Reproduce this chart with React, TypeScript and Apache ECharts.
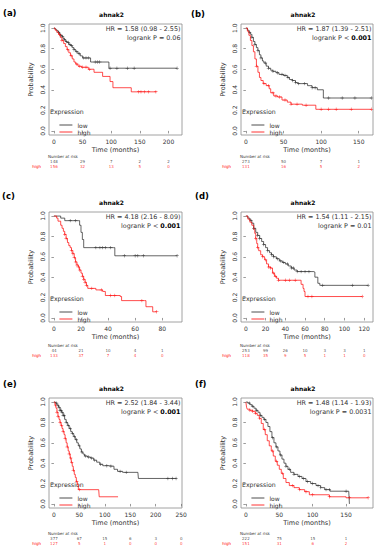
import React, { useEffect, useRef } from "react";
import * as echarts from "echarts";

type Pt = [number, number];

// ---------- (a) ----------
const aLow: Pt[] = [[0,1],[2,0.99],[4,0.98],[6,0.97],[8,0.96],[10,0.94],[12,0.93],[14,0.92],[16,0.9],[18,0.89],[20,0.87],[23,0.86],[26,0.84],[29,0.83],[32,0.81],[35,0.79],[38,0.77],[42,0.75],[46,0.73],[50,0.71],[64,0.67],[96,0.61],[215,0.61]];
const aHigh: Pt[] = [[0,1],[2,0.98],[5,0.96],[8,0.94],[11,0.91],[14,0.88],[17,0.85],[20,0.82],[23,0.79],[26,0.76],[29,0.73],[32,0.7],[35,0.67],[38,0.65],[42,0.63],[48,0.62],[60,0.6],[70,0.57],[85,0.53],[98,0.48],[103,0.42],[135,0.38],[179,0.38]];
const aLowCens = [8,12,15,18,22,25,28,31,35,40,44,52,56,60,72,76,80,98,110,128,140,215];
const aHighCens = [10,14,24,30,40,45,50,56,62,148,152,158,165,178];
const aTicks = [0,50,100,150,200];
const aRiskLow = [148,29,7,2,2];
const aRiskHigh = [156,32,13,5,0];
const aHR = "HR = 1.58 (0.98 - 2.55)";

// ---------- (b) ----------
const bLow: Pt[] = [[0,1],[2,0.98],[4,0.96],[6,0.94],[8,0.91],[10,0.87],[12,0.84],[14,0.81],[16,0.78],[18,0.74],[20,0.71],[22,0.68],[24,0.66],[27,0.63],[30,0.61],[33,0.59],[36,0.58],[40,0.565],[44,0.55],[50,0.54],[55,0.52],[58,0.5],[62,0.49],[66,0.47],[69,0.46],[82,0.44],[88,0.42],[95,0.4],[103,0.32],[167,0.32]];
const bHigh: Pt[] = [[0,1],[2,0.97],[4,0.93],[6,0.88],[8,0.83],[10,0.77],[12,0.7],[14,0.63],[16,0.57],[18,0.52],[20,0.49],[23,0.46],[27,0.44],[31,0.41],[33,0.37],[37,0.34],[42,0.33],[48,0.3],[55,0.28],[60,0.26],[75,0.25],[93,0.21],[167,0.21]];
const bLowCens = [5,8,12,16,20,26,30,36,42,48,52,56,62,66,70,78,88,92,110,128,145,167];
const bHighCens = [14,24,30,36,40,45,52,60,68,80,100,110,120,140,167];
const bTicks = [0,50,100,150];
const bRiskLow = [273,50,7,1];
const bRiskHigh = [131,16,5,2];
const bHR = "HR = 1.87 (1.39 - 2.51)";

// ---------- (c) ----------
const cLow: Pt[] = [[0,1],[5,0.98],[8,0.955],[18,0.955],[19,0.91],[20,0.84],[21,0.77],[22,0.69],[44,0.69],[45,0.61],[91,0.61]];
const cHigh: Pt[] = [[0,1],[2,0.98],[3,0.95],[5,0.91],[6,0.88],[7,0.85],[8,0.82],[9,0.78],[10,0.74],[11,0.71],[12,0.69],[13,0.66],[14,0.63],[15,0.59],[16,0.55],[17,0.52],[18,0.5],[19,0.47],[20,0.44],[21,0.41],[22,0.38],[23,0.35],[24,0.32],[25,0.29],[31,0.275],[36,0.26],[38,0.22],[49,0.21],[50,0.17],[67,0.17],[68,0.11],[73,0.06],[76,0.06]];
const cLowCens = [12,16,31,34,36,38,42,52,60,62,66,91];
const cHighCens = [8,9,13,14,15,16,17,18,19,21,22,23,24,28,35,42,45,65,76];
const cTicks = [0,20,40,60,80];
const cRiskLow = [44,21,10,4,1];
const cRiskHigh = [133,37,7,4,0];
const cHR = "HR = 4.18 (2.16 - 8.09)";

// ---------- (d) ----------
const dLow: Pt[] = [[0,1],[2,0.98],[4,0.96],[6,0.93],[8,0.88],[10,0.84],[12,0.81],[14,0.78],[16,0.75],[18,0.72],[20,0.69],[22,0.66],[24,0.64],[26,0.62],[28,0.6],[31,0.58],[34,0.56],[37,0.545],[40,0.53],[43,0.51],[46,0.49],[49,0.47],[52,0.455],[69,0.45],[70,0.4],[73,0.34],[75,0.32],[124,0.32]];
const dHigh: Pt[] = [[0,1],[2,0.97],[4,0.94],[6,0.91],[8,0.87],[9,0.83],[10,0.78],[11,0.73],[12,0.69],[13,0.66],[15,0.62],[17,0.6],[19,0.57],[21,0.53],[23,0.5],[25,0.49],[27,0.44],[29,0.41],[31,0.39],[33,0.37],[55,0.37],[56,0.33],[58,0.29],[59,0.26],[60,0.21],[118,0.21]];
const dLowCens = [5,8,12,14,18,22,26,28,32,35,38,42,46,48,52,56,60,64,78,108,124];
const dHighCens = [10,12,17,20,23,25,28,30,33,40,44,50,63,67,118];
const dTicks = [0,20,40,60,80,100,120];
const dRiskLow = [253,99,26,10,3,3,1];
const dRiskHigh = [118,35,9,5,1,1,0];
const dHR = "HR = 1.54 (1.11 - 2.15)";

// ---------- (e) ----------
const eLow: Pt[] = [[0,1],[3,0.99],[6,0.97],[9,0.95],[12,0.92],[15,0.9],[18,0.87],[21,0.83],[24,0.8],[27,0.77],[30,0.74],[33,0.71],[36,0.69],[39,0.66],[42,0.63],[45,0.6],[48,0.57],[51,0.54],[54,0.51],[57,0.49],[60,0.47],[66,0.46],[72,0.45],[78,0.43],[84,0.41],[90,0.39],[96,0.375],[110,0.37],[118,0.34],[125,0.32],[135,0.31],[165,0.31],[166,0.25],[241,0.25]];
const eHigh: Pt[] = [[0,1],[2,0.97],[4,0.94],[6,0.9],[8,0.86],[10,0.83],[12,0.8],[14,0.77],[16,0.74],[18,0.71],[20,0.68],[22,0.64],[24,0.6],[26,0.56],[28,0.52],[30,0.49],[32,0.45],[34,0.41],[36,0.37],[38,0.33],[40,0.29],[42,0.26],[44,0.22],[46,0.19],[48,0.14],[88,0.14],[89,0.07],[126,0.07]];
const eLowCens = [5,8,10,12,14,16,18,20,24,28,32,36,40,44,50,55,62,68,74,80,92,104,112,130,142,224,233,240];
const eHighCens = [3,6,8,12,15,18,22,26,30,33,35,38,45,50];
const eTicks = [0,50,100,150,200,250];
const eRiskLow = [377,67,15,6,3,0];
const eRiskHigh = [127,5,1,0,0,0];
const eHR = "HR = 2.52 (1.84 - 3.44)";

// ---------- (f) ----------
const fLow: Pt[] = [[0,1],[3,0.99],[6,0.975],[9,0.96],[12,0.94],[15,0.92],[18,0.9],[21,0.87],[24,0.85],[27,0.83],[30,0.8],[33,0.76],[36,0.71],[39,0.65],[42,0.6],[45,0.56],[48,0.52],[51,0.48],[54,0.44],[57,0.4],[60,0.37],[63,0.34],[67,0.31],[72,0.29],[78,0.27],[84,0.25],[90,0.22],[97,0.2],[105,0.18],[112,0.16],[118,0.14],[126,0.125],[154,0.125],[155,0]];
const fHigh: Pt[] = [[0,1],[1,0.95],[2,0.93],[6,0.92],[10,0.91],[14,0.89],[17,0.87],[20,0.84],[23,0.79],[26,0.73],[29,0.68],[32,0.62],[35,0.57],[38,0.52],[41,0.47],[44,0.42],[47,0.38],[50,0.34],[53,0.3],[56,0.25],[60,0.21],[65,0.18],[72,0.16],[80,0.14],[88,0.12],[95,0.09],[125,0.07],[150,0.06],[183,0.06]];
const fLowCens = [5,10,16,22,28,40,46,52,60,65,72,80,86,92,100,108,112,120,125,150];
const fHighCens = [6,10,14,20,28,40,46,55,70,80,90,100,125,155,183];
const fTicks = [0,50,100,150];
const fRiskLow = [222,75,15,1];
const fRiskHigh = [151,31,6,2];
const fHR = "HR = 1.48 (1.14 - 1.93)";

const yTicks = [0, 0.2, 0.4, 0.6, 0.8, 1.0];
const riskRows = ["high", "low"];

// layout (positions only)
const panels = [
  { tag: "(a)", low: aLow, high: aHigh, lc: aLowCens, hc: aHighCens, ticks: aTicks, rl: aRiskLow, rh: aRiskHigh, hr: aHR, p: "= 0.06", bold: false, xr: [-8.6, 223.6], box: [49, 24, 182, 135], tagPos: [3, 8], riskY: 161, rMargin: 8 },
  { tag: "(b)", low: bLow, high: bHigh, lc: bLowCens, hc: bHighCens, ticks: bTicks, rl: bRiskLow, rh: bRiskHigh, hr: bHR, p: "< 0.001", bold: true, xr: [-6.5, 169], box: [241, 24, 373, 135], tagPos: [191, 9], riskY: 161, rMargin: 10 },
  { tag: "(c)", low: cLow, high: cHigh, lc: cLowCens, hc: cHighCens, ticks: cTicks, rl: cRiskLow, rh: cRiskHigh, hr: cHR, p: "< 0.001", bold: true, xr: [-3.64, 94.64], box: [49, 212, 182, 322], tagPos: [2, 191], riskY: 350, rMargin: 8 },
  { tag: "(d)", low: dLow, high: dHigh, lc: dLowCens, hc: dHighCens, ticks: dTicks, rl: dRiskLow, rh: dRiskHigh, hr: dHR, p: "= 0.01", bold: false, xr: [-4.96, 128.96], box: [241, 212, 373, 322], tagPos: [195, 191], riskY: 350, rMargin: 10 },
  { tag: "(e)", low: eLow, high: eHigh, lc: eLowCens, hc: eHighCens, ticks: eTicks, rl: eRiskLow, rh: eRiskHigh, hr: eHR, p: "< 0.001", bold: true, xr: [-9.68, 251.68], box: [49, 398, 182, 508], tagPos: [3, 379], riskY: 538, rMargin: 8 },
  { tag: "(f)", low: fLow, high: fHigh, lc: fLowCens, hc: fHighCens, ticks: fTicks, rl: fRiskLow, rh: fRiskHigh, hr: fHR, p: "= 0.0031", bold: false, xr: [-7.32, 190.32], box: [241, 398, 373, 508], tagPos: [195, 379], riskY: 538, rMargin: 10 },
];

const LOW_COLOR = "#222222";
const HIGH_COLOR = "#ff0000";
const TEXT = "#333333";
const FONT = "DejaVu Sans";
const PLUS = "path://M0,4.3H10V5.7H0Z M4.3,0H5.7V10H4.3Z";

function stepAt(curve: Pt[], t: number): number {
  let v = curve[0][1];
  for (const [x, y] of curve) {
    if (x <= t) v = y;
    else break;
  }
  return v;
}

function buildOption() {
  const grid: any[] = [];
  const xAxis: any[] = [];
  const yAxis: any[] = [];
  const series: any[] = [];
  const legend: any[] = [];
  const title: any[] = [];
  const graphic: any[] = [];

  panels.forEach((pn, i) => {
    const [L, T, R, B] = pn.box;
    const gMain = 2 * i;
    const gRisk = 2 * i + 1;
    grid.push({ left: L, top: T, width: R - L, height: B - T, show: true, borderColor: "#8c8c8c", borderWidth: 0.8, containLabel: false });
    grid.push({ left: L, top: pn.riskY - 2.5, width: R - L, height: 10, show: false, containLabel: false });

    xAxis.push({
      type: "value", gridIndex: gMain, min: pn.xr[0], max: pn.xr[1],
      axisLine: { show: false },
      axisTick: { show: true, length: 2.5, lineStyle: { color: "#555", width: 0.6 }, customValues: pn.ticks },
      axisLabel: { fontSize: 6, margin: 3, color: TEXT, fontFamily: FONT, customValues: pn.ticks },
      splitLine: { show: false },
      name: "Time (months)", nameLocation: "middle", nameGap: 11.5,
      nameTextStyle: { fontSize: 6.5, color: TEXT, fontFamily: FONT },
    });
    xAxis.push({ type: "value", gridIndex: gRisk, min: pn.xr[0], max: pn.xr[1], show: false });

    yAxis.push({
      type: "value", gridIndex: gMain, min: -0.04, max: 1.04,
      axisLine: { show: false },
      axisTick: { show: true, length: 2.5, lineStyle: { color: "#555", width: 0.6 }, customValues: yTicks },
      axisLabel: { fontSize: 6, margin: 4, rotate: 90, color: TEXT, fontFamily: FONT, customValues: yTicks, formatter: (v: number) => v.toFixed(1) },
      splitLine: { show: false },
      name: "Probability", nameLocation: "middle", nameGap: 15, nameRotate: 90,
      nameTextStyle: { fontSize: 6.5, color: TEXT, fontFamily: FONT },
    });
    yAxis.push({
      type: "category", gridIndex: gRisk, data: riskRows,
      axisLine: { show: false }, axisTick: { show: false }, splitLine: { show: false },
      axisLabel: { fontSize: 4, margin: pn.rMargin, fontFamily: FONT, color: (v: string) => (v === "high" ? HIGH_COLOR : LOW_COLOR) },
    });

    const curves: [string, Pt[], number[], string][] = [
      ["low", pn.low, pn.lc, LOW_COLOR],
      ["high", pn.high, pn.hc, HIGH_COLOR],
    ];
    curves.forEach(([name, data, cens, color]) => {
      series.push({
        type: "line", name, xAxisIndex: gMain, yAxisIndex: gMain, data, step: "end",
        symbol: "none", lineStyle: { color, width: 0.7 }, itemStyle: { color }, silent: true,
      });
      series.push({
        type: "scatter", name: name + " censored", xAxisIndex: gMain, yAxisIndex: gMain,
        data: cens.map((t) => [t, stepAt(data, t)]),
        symbol: PLUS, symbolSize: 3.4, itemStyle: { color }, silent: true,
      });
    });

    const riskSets: [string, number[], string][] = [
      ["low", pn.rl, LOW_COLOR],
      ["high", pn.rh, HIGH_COLOR],
    ];
    riskSets.forEach(([row, vals, color]) => {
      series.push({
        type: "scatter", name: "risk " + row, xAxisIndex: gRisk, yAxisIndex: gRisk,
        data: pn.ticks.map((t, k) => [t, row, vals[k]]),
        symbolSize: 1, itemStyle: { color: "rgba(0,0,0,0)" }, silent: true,
        label: { show: true, position: "inside", fontSize: 4, fontFamily: FONT, color, formatter: (p: any) => String(p.value[2]) },
      });
    });

    legend.push({
      left: L + 5, top: B - 18, orient: "vertical", itemWidth: 13, itemHeight: 6, itemGap: 1,
      data: ["low", "high"], selectedMode: false,
      itemStyle: { color: "rgba(0,0,0,0)", borderWidth: 0, opacity: 0 },
      lineStyle: { width: 0.8 },
      textStyle: { fontSize: 6, color: TEXT, fontFamily: FONT },
    });

    title.push({
      text: pn.tag, left: pn.tagPos[0], top: pn.tagPos[1], padding: 0,
      textStyle: { fontSize: 8.5, fontWeight: "bold", color: "#000", fontFamily: FONT },
    });
    title.push({
      text: "ahnak2", left: (L + R) / 2 - 4, top: T - 13, padding: 0, textAlign: "center",
      textStyle: { fontSize: 6, fontWeight: "bold", color: "#000", fontFamily: FONT },
    });

    graphic.push({
      type: "text", x: R - 1.5, y: T + 5,
      style: { text: pn.hr, align: "right", verticalAlign: "middle", fontSize: 6.4, fill: TEXT, fontFamily: FONT },
    });
    graphic.push({
      type: "text", x: R - 1.5, y: T + 13.5,
      style: {
        text: pn.bold ? "logrank P < {b|0.001}" : "logrank P " + pn.p,
        align: "right", verticalAlign: "middle", fontSize: 6.4, fill: TEXT, fontFamily: FONT,
        rich: { b: { fontWeight: "bold", fontSize: 6.4, fill: "#000", fontFamily: FONT } },
      },
    });
    graphic.push({
      type: "text", x: L + 1, y: B - 24,
      style: { text: "Expression", align: "left", verticalAlign: "middle", fontSize: 6.2, fill: TEXT, fontFamily: FONT },
    });
    graphic.push({
      type: "text", x: L - 1, y: pn.riskY - 5,
      style: { text: "Number at risk", align: "left", verticalAlign: "middle", fontSize: 4, fill: TEXT, fontFamily: FONT },
    });
  });

  return {
    animation: false,
    backgroundColor: "#ffffff",
    textStyle: { fontFamily: FONT },
    grid, xAxis, yAxis, series, legend, title, graphic,
  };
}

export default function App() {
  const ref = useRef<HTMLDivElement>(null);
  useEffect(() => {
    if (!ref.current) return;
    const chart = echarts.init(ref.current, undefined, { renderer: "svg" });
    chart.setOption(buildOption() as any);
    return () => chart.dispose();
  }, []);
  return <div ref={ref} style={{ position: "fixed", left: 0, top: 0, width: 377, height: 550 }} />;
}
